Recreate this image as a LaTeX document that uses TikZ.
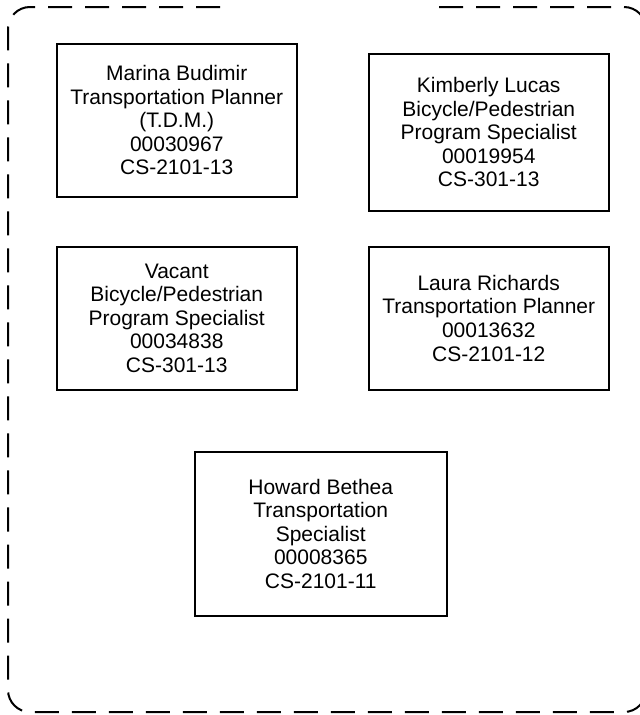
\documentclass[tikz,border=0pt]{standalone}
\usepackage{fontspec}
\setmainfont{Liberation Sans}
\begin{document}
\begin{tikzpicture}[x=1pt,y=-1pt,
  person/.style={draw=black,line width=1.5pt,align=center,anchor=north west,inner sep=0pt,
    font=\fontsize{21}{23.6}\selectfont},
  frame/.style={draw=black,line width=2pt,dash pattern=on 24pt off 13pt,rounded corners=22pt}]
\useasboundingbox (0,0) rectangle (640,715);
\draw[frame] (220,7) -- (8,7) -- (8,712) -- (646,712) -- (646,7) -- (434,7);
\node[person,minimum width=240pt,minimum height=153pt] (a) at (56,43)
  {Marina Budimir\\Transportation Planner\\(T.D.M.)\\00030967\\CS-2101-13};
\node[person,minimum width=240pt,minimum height=157pt] (b) at (368,53)
  {Kimberly Lucas\\Bicycle/Pedestrian\\Program Specialist\\00019954\\CS-301-13};
\node[person,minimum width=240pt,minimum height=143pt] (c) at (56,246)
  {Vacant\\Bicycle/Pedestrian\\Program Specialist\\00034838\\CS-301-13};
\node[person,minimum width=240pt,minimum height=143pt] (d) at (368,246)
  {Laura Richards\\Transportation Planner\\00013632\\CS-2101-12};
\node[person,minimum width=252pt,minimum height=164pt] (e) at (194,451)
  {Howard Bethea\\Transportation\\Specialist\\00008365\\CS-2101-11};
\end{tikzpicture}
\end{document}
